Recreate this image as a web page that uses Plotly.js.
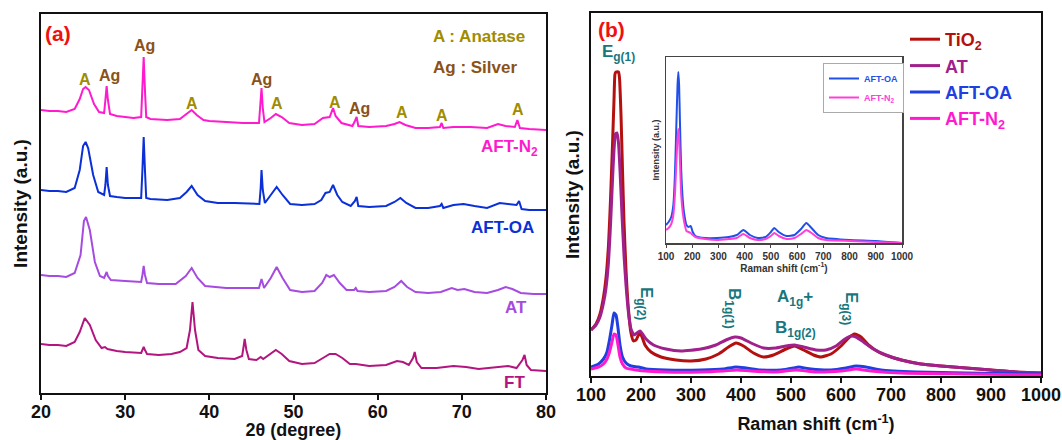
<!DOCTYPE html>
<html>
<head>
<meta charset="utf-8">
<script src="https://cdn.plot.ly/plotly-3.0.1.min.js"></script>
<style>html,body{margin:0;padding:0;background:#fff}#chart{width:1062px;height:440px}</style>
</head>
<body>
<div id="chart"></div>
<script>
// ---------- Panel (a): XRD patterns (2θ in degrees, stacked intensity in a.u.) ----------
const xrdTicks = [20, 30, 40, 50, 60, 70, 80];

const n2X = [20,21,22,23,24,24.6,25.0,25.3,25.7,26.3,26.9,27.5,27.65,27.8,27.95,28.2,29,30,31,31.9,32.05,32.2,32.35,32.5,33,35,36.5,37.3,37.9,38.5,39.3,40,42,44,45.9,46.05,46.2,46.35,46.55,47.3,47.9,48.6,49.5,51,52.5,53.5,54.3,54.7,55.0,55.7,57.0,57.3,57.5,57.7,59,61,62.0,62.6,63.3,64.5,66,67.4,67.6,67.8,69,71,73,74.3,75.2,76.3,76.6,76.9,78,80];
const n2Y = [283,282,282,281,284,294,304,306,303,289,281,280,293,307,293,279,277,276,275,276,303,336,303,276,274,273,274,279,283,278,273,272,271,270,270,285,305,285,271,275,279,276,270,268,269,275,276,285,277,270,267,272,276,267,266,267,269,271,268,265,265,266,270,265,266,266,265,269,267,266,273,265,264,263];

const oaX = [20,21,22,23,24,24.6,25.0,25.3,25.6,26.2,26.8,27.5,27.65,27.8,27.95,28.2,29,30,31,31.9,32.05,32.2,32.35,32.5,33,35,36.5,37.3,37.9,38.6,39.5,41,43,45,45.95,46.1,46.2,46.35,46.6,47.3,48.0,48.7,49.6,51,52.5,53.3,53.8,54.3,54.7,55.2,55.8,56.8,57.3,57.5,57.7,59,61,62.0,62.7,63.4,64.5,66,67.4,67.6,67.8,69,70.2,71.5,73,74.5,75.5,76.5,76.8,77.1,78,80];
const oaY = [203,202,202,201,205,223,247,251,245,218,201,198,208,226,208,197,196,195,195,195,223,256,223,195,194,193,195,201,207,198,192,190,190,189,189,205,223,203,190,198,206,198,189,188,189,193,200,201,208,198,191,187,192,196,187,186,187,191,195,190,185,185,187,189,185,188,189,187,185,190,189,188,192,184,183,183];

const atX = [20,21,22,23,24,24.7,25.1,25.35,25.8,26.4,27.0,27.5,27.7,27.8,27.95,28.3,30,31.9,32.05,32.2,32.35,32.6,34,36,37.2,37.9,38.6,39.5,42,44,45.9,46.2,46.5,47.3,48.0,48.7,49.6,51,52.5,53.4,53.9,54.3,54.8,55.5,56.3,57.2,57.4,57.6,59,61,62.0,62.8,63.5,64.5,66,67.5,68.8,69.5,70.3,71.5,73,74.3,75.2,76,77,78.5,80];
const atY = [118,117,117,116,120,138,172,176,163,131,117,115,119,121,117,113,112,111,118,127,118,110,109,109,117,125,115,107,105,105,105,114,105,115,126,115,103,101,102,110,118,116,118,110,103,103,105,102,101,102,106,112,106,101,100,101,105,103,104,101,100,103,106,104,100,99,99];

const ftX = [20,21,22,23,24,24.6,25.2,25.8,26.5,27.2,27.6,27.9,29,30,31.9,32.05,32.2,32.35,32.6,34,35.5,36.5,37.3,37.7,38.0,38.3,38.7,39.5,41,43,43.9,44.1,44.2,44.4,44.7,45.6,46.1,46.4,47.2,47.9,48.6,49.5,51,52.5,53.5,54.3,55.0,55.8,56.7,57.4,59,61,62.3,63.0,63.7,64.2,64.4,64.65,65.2,67,69,70.5,72,74,75.5,76.5,77.2,77.45,77.7,78.2,80];
const ftY = [49,48,48,47,51,61,75,68,53,45,46,44,42,41,40,43,46,43,39,38,39,41,45,63,91,63,43,37,35,34,37,48,54,43,34,33,36,34,39,43,39,32,29,30,35,39,39,35,29,29,27,28,32,31,28,35,41,31,25,25,27,26,24,26,27,25,33,38,28,23,22];

// ---------- Panel (b): Raman spectra (Raman shift in cm^-1, intensity in a.u.) ----------
const ramanTicks = [100,200,300,400,500,600,700,800,900,1000];

const tiX = [100,110,118,125,130,135,139,143,146,148,150,155,157,160,163,166,170,175,180,185,190,194,198,202,208,220,240,270,300,330,355,375,390,405,425,445,465,490,507,525,545,560,580,600,615,627,640,655,675,700,730,760,800,850,900,950,1000];
const tiY = [46,52,62,79,98,131,176,231,276,302,304,304,298,261,206,154,106,66,43,35,36,40,43,39,31,24,19,16,15,17,22,29,33,30,23,19,21,27,30,26,21,19,22,30,38,42,39,31,24,19,15,12,10,8,6,4,3];

const rAtX = [100,110,118,125,130,135,139,143,146,149,152,155,158,162,166,170,175,180,186,192,198,203,210,225,250,280,320,350,370,388,400,420,445,470,490,507,525,550,570,590,605,620,630,645,665,690,720,760,800,850,900,950,1000];
const rAtY = [46,51,59,73,88,114,151,196,226,242,243,233,206,161,121,91,63,47,41,43,45,42,37,31,27,25,27,31,36,39,38,33,28,28,30,31,29,26,26,30,36,40,39,34,27,21,16,12,10,8,6,4,3];

const rOaX = [100,115,125,132,137,142,146,150,154,158,163,170,180,195,210,250,320,365,390,410,440,480,505,515,540,580,610,630,650,680,750,850,1000];
const rOaY = [9,12,17,24,36,51,63,61,48,31,19,13,10,9,7,6,6,7,9,8,6,6,8,9,7,6,8,10,9,6,4,3,2];

const rN2X = [100,115,125,132,137,142,146,150,154,158,163,170,190,250,320,365,392,420,470,510,550,600,630,660,720,850,1000];
const rN2Y = [7,9,12,17,24,34,42,41,31,19,12,8,6,4,4,5,6,5,4,6,4,5,7,5,3,2,1];

// ---------- Inset: AFT-OA vs AFT-N2 ----------
const inX = [100,110,120,128,134,140,144,147,150,153,158,164,170,178,186,194,202,212,250,294,340,370,395,420,450,480,500,513,530,560,590,615,635,655,680,710,800,900,1000];
const inOaY = [18,21,26,38,68,123,158,171,158,123,73,43,28,18,16,17,11,7,5,5,6,8,13,8,5,6,11,15,11,7,8,14,20,15,8,5,3,2,0];
const inN2Y = [13,15,19,28,48,83,105,114,105,83,48,30,20,12,11,10,8,6,4,3,4,5,9,5,3,4,7,10,7,4,5,9,13,10,5,3,2,1,0];

// ---------- Labels ----------
const xrdSeriesNames = ['AFT-N<sub>2</sub>', 'AFT-OA', 'AT', 'FT'];
const ramanSeriesNames = ['TiO<sub>2</sub>', 'AT', 'AFT-OA', 'AFT-N<sub>2</sub>'];

const F = 'Liberation Sans, Arial, Helvetica, sans-serif';
const C = {
  n2: '#ff1acd', oa: '#0b30d8', at: '#a64be0', ft: '#b3157f',
  ti: '#b3100f', rat: '#a0208c', roa: '#1f3fe0', rn2: '#ff1ad0',
  anat: '#a08c00', silv: '#8b5218', teal: '#17777d', red: '#f01010'
};

function span(col, txt) { return '<span style="color:' + col + '">' + txt + '</span>'; }

const traces = [
  {x: ftX, y: ftY, xaxis: 'x', yaxis: 'y', mode: 'lines', line: {color: C.ft, width: 2}, name: 'FT', showlegend: false},
  {x: atX, y: atY, xaxis: 'x', yaxis: 'y', mode: 'lines', line: {color: C.at, width: 2}, name: 'AT', showlegend: false},
  {x: oaX, y: oaY, xaxis: 'x', yaxis: 'y', mode: 'lines', line: {color: C.oa, width: 2}, name: 'AFT-OA', showlegend: false},
  {x: n2X, y: n2Y, xaxis: 'x', yaxis: 'y', mode: 'lines', line: {color: C.n2, width: 2}, name: 'AFT-N2', showlegend: false},

  {x: tiX, y: tiY, xaxis: 'x2', yaxis: 'y2', mode: 'lines', line: {color: C.ti, width: 3, shape: 'spline', smoothing: 0.5}, name: span(C.ti, ramanSeriesNames[0]), legend: 'legend'},
  {x: rAtX, y: rAtY, xaxis: 'x2', yaxis: 'y2', mode: 'lines', line: {color: C.rat, width: 3, shape: 'spline', smoothing: 0.5}, name: span(C.rat, ramanSeriesNames[1]), legend: 'legend'},
  {x: rOaX, y: rOaY, xaxis: 'x2', yaxis: 'y2', mode: 'lines', line: {color: C.roa, width: 3, shape: 'spline', smoothing: 0.5}, name: span(C.roa, ramanSeriesNames[2]), legend: 'legend'},
  {x: rN2X, y: rN2Y, xaxis: 'x2', yaxis: 'y2', mode: 'lines', line: {color: C.rn2, width: 3, shape: 'spline', smoothing: 0.5}, name: span(C.rn2, ramanSeriesNames[3]), legend: 'legend'},

  {x: inX, y: inOaY, xaxis: 'x3', yaxis: 'y3', mode: 'lines', line: {color: '#2050e8', width: 2, shape: 'spline', smoothing: 0.5}, name: span('#2050e8', 'AFT-OA'), legend: 'legend2'},
  {x: inX, y: inN2Y, xaxis: 'x3', yaxis: 'y3', mode: 'lines', line: {color: '#ff40d8', width: 2, shape: 'spline', smoothing: 0.5}, name: span('#ff40d8', 'AFT-N<sub>2</sub>'), legend: 'legend2'}
];

function ann(xref, yref, x, y, text, color, size, extra) {
  return Object.assign({xref: xref, yref: yref, x: x, y: y, text: text, showarrow: false,
    font: {family: F, size: size, color: color, weight: 'bold'}}, extra || {});
}

const annotations = [
  ann('x', 'y', 22.0, 360, '(a)', C.red, 21),
  ann('x', 'y', 25.2, 314, 'A', C.anat, 16),
  ann('x', 'y', 28.1, 318, 'Ag', C.silv, 16),
  ann('x', 'y', 32.3, 348, 'Ag', C.silv, 16),
  ann('x', 'y', 37.9, 290, 'A', C.anat, 16),
  ann('x', 'y', 46.2, 314, 'Ag', C.silv, 16),
  ann('x', 'y', 48.0, 290, 'A', C.anat, 16),
  ann('x', 'y', 54.9, 291, 'A', C.anat, 16),
  ann('x', 'y', 57.8, 285, 'Ag', C.silv, 16),
  ann('x', 'y', 62.9, 281, 'A', C.anat, 16),
  ann('x', 'y', 67.7, 278, 'A', C.anat, 16),
  ann('x', 'y', 76.7, 284, 'A', C.anat, 16),
  ann('x', 'y', 66.3, 357, 'A : Anatase', C.anat, 17, {xanchor: 'left'}),
  ann('x', 'y', 66.3, 326, 'Ag : Silver', C.silv, 17, {xanchor: 'left'}),
  ann('x', 'y', 79.3, 245, xrdSeriesNames[0], C.n2, 17, {xanchor: 'right'}),
  ann('x', 'y', 78.8, 166, xrdSeriesNames[1], C.oa, 17, {xanchor: 'right'}),
  ann('x', 'y', 78.0, 86, xrdSeriesNames[2], C.at, 17, {xanchor: 'right'}),
  ann('x', 'y', 77.8, 11, xrdSeriesNames[3], C.ft, 17, {xanchor: 'right'}),

  ann('x2', 'y2', 140, 347, '(b)', C.red, 21),
  ann('x2', 'y2', 154, 323, 'E<sub>g(1)</sub>', C.teal, 17),
  ann('x2', 'y2', 208, 73, 'E<sub>g(2)</sub>', C.teal, 17, {textangle: 90}),
  ann('x2', 'y2', 384, 68, 'B<sub>1g(1)</sub>', C.teal, 17, {textangle: 90}),
  ann('x2', 'y2', 508, 78, 'A<sub>1g</sub>+', C.teal, 17),
  ann('x2', 'y2', 508, 47, 'B<sub>1g(2)</sub>', C.teal, 17),
  ann('x2', 'y2', 618, 68, 'E<sub>g(3)</sub>', C.teal, 17, {textangle: 90})
];

const boxAxis = {showline: true, mirror: true, linecolor: '#111', linewidth: 2, showgrid: false, zeroline: false};

const layout = {
  width: 1062, height: 440,
  margin: {l: 0, r: 0, t: 0, b: 0},
  paper_bgcolor: '#ffffff', plot_bgcolor: 'rgba(0,0,0,0)',
  font: {family: F, size: 18, color: '#111'},
  showlegend: true,
  xaxis: Object.assign({}, boxAxis, {
    domain: [41/1062, 546/1062], range: [20, 80], anchor: 'y',
    ticks: 'outside', ticklen: 5, tickwidth: 2, tickcolor: '#111', tickvals: xrdTicks,
    ticklabelstandoff: -4,
    tickfont: {family: F, size: 18, weight: 'bold', color: '#111'},
    title: {text: '2θ (degree)', font: {family: F, size: 18, weight: 'bold', color: '#111'}, standoff: 10}
  }),
  yaxis: Object.assign({}, boxAxis, {
    domain: [47/440, 426/440], range: [0, 379], anchor: 'x',
    ticks: '', showticklabels: false,
    title: {text: 'Intensity (a.u.)', font: {family: F, size: 19, weight: 'bold', color: '#111'}, standoff: 6}
  }),
  xaxis2: Object.assign({}, boxAxis, {
    domain: [591/1062, 1041/1062], range: [100, 1000], anchor: 'y2',
    ticks: 'outside', ticklen: 5, tickwidth: 2, tickcolor: '#111', tickvals: ramanTicks,
    ticklabelstandoff: -4,
    tickfont: {family: F, size: 18, weight: 'bold', color: '#111'},
    title: {text: 'Raman shift (cm<sup>-1</sup>)', font: {family: F, size: 18, weight: 'bold', color: '#111'}, standoff: 14}
  }),
  yaxis2: Object.assign({}, boxAxis, {
    domain: [64/440, 427/440], range: [0, 363], anchor: 'x2',
    ticks: '', showticklabels: false,
    title: {text: 'Intensity (a.u.)', font: {family: F, size: 19, weight: 'bold', color: '#111'}, standoff: 4}
  }),
  xaxis3: {
    domain: [666/1062, 902/1062], range: [100, 1000], anchor: 'y3',
    showline: true, mirror: true, linecolor: '#444', linewidth: 1.5, showgrid: false, zeroline: false,
    ticks: 'outside', ticklen: 3, tickwidth: 1, tickcolor: '#444', tickvals: ramanTicks,
    tickfont: {family: F, size: 10, weight: 'bold', color: '#333'},
    title: {text: 'Raman shift (cm<sup>-1</sup>)', font: {family: F, size: 10, weight: 'bold', color: '#333'}, standoff: 2}
  },
  yaxis3: {
    domain: [197/440, 383/440], range: [0, 186], anchor: 'x3',
    showline: true, mirror: true, linecolor: '#444', linewidth: 1.5, showgrid: false, zeroline: false,
    ticks: '', showticklabels: false,
    title: {text: 'Intensity (a.u.)', font: {family: F, size: 9, weight: 'bold', color: '#333'}, standoff: 3}
  },
  legend: {
    x: 905/1062, y: (440 - 21)/440, xanchor: 'left', yanchor: 'top',
    font: {family: F, size: 18, weight: 'bold'}, bgcolor: 'rgba(0,0,0,0)', borderwidth: 0,
    itemwidth: 30, tracegroupgap: 0
  },
  legend2: {
    x: 823/1062, y: (440 - 63)/440, xanchor: 'left', yanchor: 'top',
    font: {family: F, size: 9, weight: 'bold'}, bgcolor: '#ffffff', bordercolor: '#aaaaaa', borderwidth: 1,
    itemwidth: 30, tracegroupgap: 0
  },
  annotations: annotations
};

Plotly.newPlot('chart', traces, layout, {displayModeBar: false, staticPlot: true});
</script>
</body>
</html>
